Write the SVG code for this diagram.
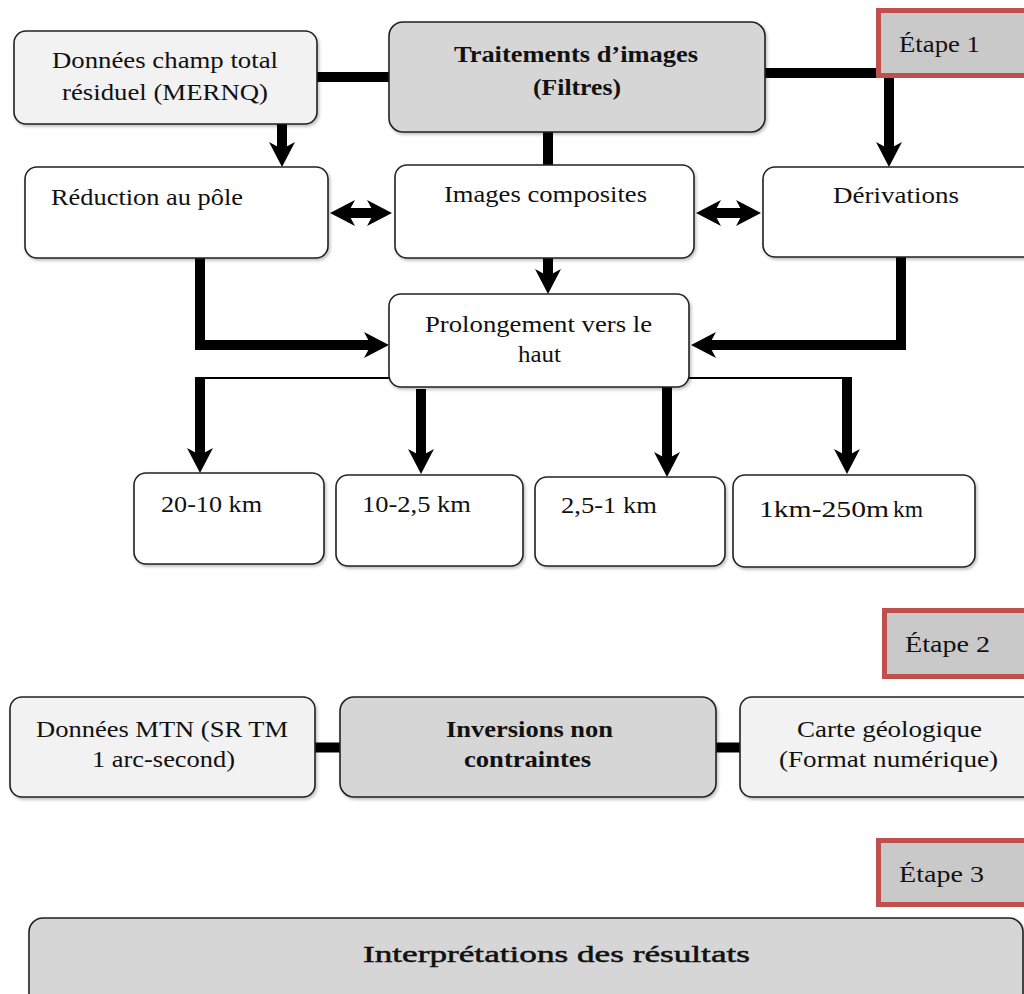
<svg xmlns="http://www.w3.org/2000/svg" width="1024" height="994" viewBox="0 0 1024 994">
<style>
.box{stroke:#222;stroke-width:1.6;filter:url(#sh)}
.w{fill:#ffffff}
.l{fill:#f2f2f2}
.g{fill:#d6d6d6}
.step{fill:#c9c9c9;stroke:#c0504d;stroke-width:5}
text{font-family:"Liberation Serif","Times New Roman",serif;font-size:24px;fill:#111}
.b{font-weight:bold}
.thick{stroke:#000;stroke-width:10;fill:none}
.thin{stroke:#000;stroke-width:2;fill:none}
</style>
<defs>
<filter id="sh" x="-5%" y="-5%" width="110%" height="115%">
<feDropShadow dx="1.5" dy="2" stdDeviation="1.5" flood-color="#000" flood-opacity="0.25"/>
</filter>
<marker id="ah" markerUnits="userSpaceOnUse" viewBox="0 -13 25 26" refX="11" refY="0" markerWidth="25" markerHeight="26" orient="auto-start-reverse">
<path d="M0,-13 L25,0 L0,13 L7,0 z" fill="#000"/>
</marker>
</defs>
<rect width="1024" height="994" fill="#ffffff"/>

<g id="connectors">
<line class="thick" x1="316" y1="77" x2="390" y2="77"/>
<line class="thick" x1="764" y1="73" x2="878" y2="73"/>
<line class="thick" x1="282" y1="124" x2="282" y2="153" marker-end="url(#ah)"/>
<line class="thick" x1="889" y1="78" x2="889" y2="153" marker-end="url(#ah)"/>
<line class="thick" x1="548" y1="131" x2="548" y2="166"/>
<line class="thick" x1="344" y1="213" x2="378" y2="213" marker-start="url(#ah)" marker-end="url(#ah)"/>
<line class="thick" x1="710" y1="213" x2="747" y2="213" marker-start="url(#ah)" marker-end="url(#ah)"/>
<line class="thick" x1="548" y1="258" x2="548" y2="280" marker-end="url(#ah)"/>
<path class="thick" d="M200,258 V345 H375" marker-end="url(#ah)"/>
<path class="thick" d="M901,257 V345 H705" marker-end="url(#ah)"/>
<path class="thin" d="M199,378 H390 M688,378 H848"/>
<line class="thick" x1="200" y1="377" x2="200" y2="459" marker-end="url(#ah)"/>
<line class="thick" x1="421" y1="389" x2="421" y2="460" marker-end="url(#ah)"/>
<line class="thick" x1="667" y1="387" x2="667" y2="463" marker-end="url(#ah)"/>
<line class="thick" x1="847" y1="377" x2="847" y2="460" marker-end="url(#ah)"/>
<line class="thick" x1="314" y1="747.5" x2="341" y2="747.5" stroke-width="9"/>
<line class="thick" x1="715" y1="747.5" x2="741" y2="747.5" stroke-width="9"/>
</g>

<g id="n-donnees">
<rect class="box l" x="14" y="31" width="303" height="93" rx="12"/>
<text x="52" y="68" textLength="226" lengthAdjust="spacingAndGlyphs">Données champ total</text>
<text x="62" y="100" textLength="206" lengthAdjust="spacingAndGlyphs">résiduel (MERNQ)</text>
</g>
<g id="n-traitements">
<rect class="box g" x="389" y="22" width="376" height="110" rx="14"/>
<text class="b" x="454" y="62" textLength="244" lengthAdjust="spacingAndGlyphs">Traitements d’images</text>
<text class="b" x="533" y="95" textLength="88" lengthAdjust="spacingAndGlyphs">(Filtres)</text>
</g>
<g id="n-etape1">
<rect class="step" x="878.5" y="10.5" width="150" height="65"/>
<text x="899" y="52" font-size="23" textLength="81" lengthAdjust="spacingAndGlyphs">Étape 1</text>
</g>
<g id="n-reduction">
<rect class="box w" x="25" y="167" width="303" height="91" rx="12"/>
<text x="51" y="205" textLength="192" lengthAdjust="spacingAndGlyphs">Réduction au pôle</text>
</g>
<g id="n-images">
<rect class="box w" x="395" y="165" width="299" height="93" rx="12"/>
<text x="444" y="202" textLength="203" lengthAdjust="spacingAndGlyphs">Images composites</text>
</g>
<g id="n-derivations">
<rect class="box w" x="763" y="167" width="275" height="90" rx="12"/>
<text x="833" y="203" textLength="126" lengthAdjust="spacingAndGlyphs">Dérivations</text>
</g>
<g id="n-prolongement">
<rect class="box w" x="389" y="294" width="300" height="93" rx="12"/>
<text x="425" y="332" textLength="227" lengthAdjust="spacingAndGlyphs">Prolongement vers le</text>
<text x="518" y="362" textLength="43" lengthAdjust="spacingAndGlyphs">haut</text>
</g>
<g id="n-20-10">
<rect class="box w" x="134" y="473" width="190" height="91" rx="12"/>
<text x="161" y="512" textLength="101" lengthAdjust="spacingAndGlyphs">20-10 km</text>
</g>
<g id="n-10-2-5">
<rect class="box w" x="336" y="475" width="187" height="91" rx="12"/>
<text x="362" y="512" textLength="109" lengthAdjust="spacingAndGlyphs">10-2,5 km</text>
</g>
<g id="n-2-5-1">
<rect class="box w" x="535" y="477" width="190" height="89" rx="12"/>
<text x="561" y="513" textLength="96" lengthAdjust="spacingAndGlyphs">2,5-1 km</text>
</g>
<g id="n-1km-250m">
<rect class="box w" x="733" y="475" width="242" height="92" rx="12"/>
<text x="759" y="517" textLength="130" lengthAdjust="spacingAndGlyphs">1km-250m</text>
<text x="893" y="517" font-size="28" textLength="30" lengthAdjust="spacingAndGlyphs">km</text>
</g>
<g id="n-etape2">
<rect class="step" x="884.5" y="610.5" width="145" height="66"/>
<text x="905" y="652" font-size="23" textLength="85" lengthAdjust="spacingAndGlyphs">Étape 2</text>
</g>
<g id="n-mtn">
<rect class="box l" x="10" y="697" width="305" height="100" rx="12"/>
<text x="36" y="737" textLength="252" lengthAdjust="spacingAndGlyphs">Données MTN (SR TM</text>
<text x="92" y="767" textLength="143" lengthAdjust="spacingAndGlyphs">1 arc-second)</text>
</g>
<g id="n-inversions">
<rect class="box g" x="340" y="697" width="376" height="100" rx="14"/>
<text class="b" x="446" y="737" textLength="167" lengthAdjust="spacingAndGlyphs">Inversions non</text>
<text class="b" x="464" y="767" textLength="127" lengthAdjust="spacingAndGlyphs">contraintes</text>
</g>
<g id="n-carte">
<rect class="box l" x="740" y="697" width="298" height="100" rx="12"/>
<text x="797" y="737" textLength="185" lengthAdjust="spacingAndGlyphs">Carte géologique</text>
<text x="779" y="767" textLength="219" lengthAdjust="spacingAndGlyphs">(Format numérique)</text>
</g>
<g id="n-etape3">
<rect class="step" x="878.5" y="840.5" width="150" height="64"/>
<text x="899" y="882" font-size="23" textLength="85" lengthAdjust="spacingAndGlyphs">Étape 3</text>
</g>
<g id="n-interpretations">
<rect class="box g" x="29" y="918" width="994" height="90" rx="14"/>
<text x="363" y="962" font-size="30" textLength="387" lengthAdjust="spacingAndGlyphs" stroke="#111" stroke-width="0.5">Interprétations des résultats</text>
</g>
</svg>
